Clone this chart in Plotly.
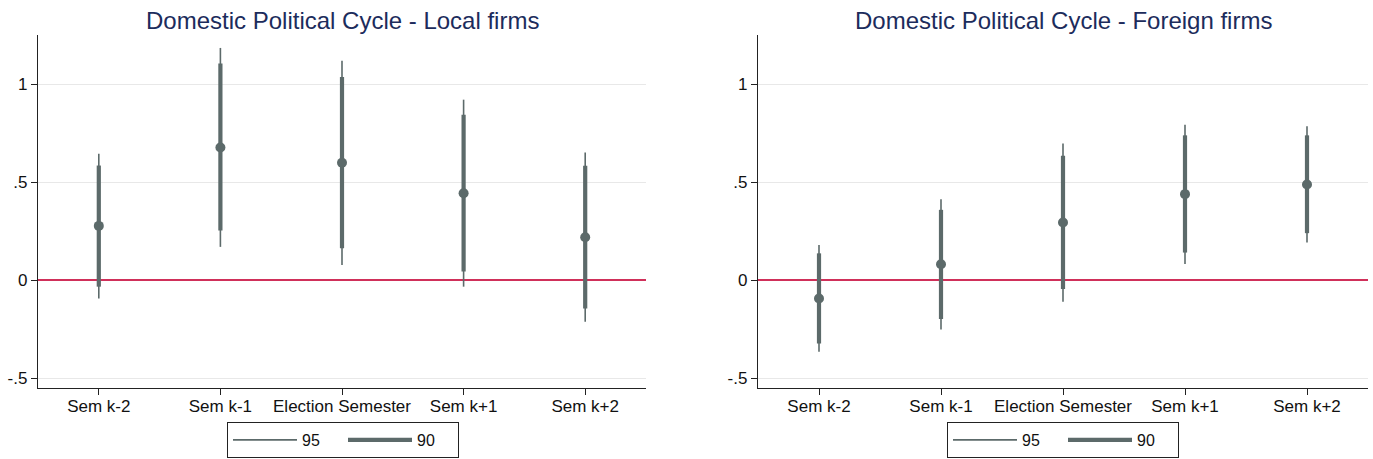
import plotly.graph_objects as go

categories = ["Sem k-2", "Sem k-1", "Election Semester", "Sem k+1", "Sem k+2"]
positions = [1, 2, 3, 4, 5]

# Local firms
local_coef = [0.276, 0.676, 0.598, 0.443, 0.218]
local_lo95 = [-0.094, 0.169, 0.077, -0.034, -0.213]
local_hi95 = [0.644, 1.184, 1.119, 0.920, 0.651]
local_lo90 = [-0.034, 0.252, 0.162, 0.043, -0.145]
local_hi90 = [0.584, 1.104, 1.036, 0.843, 0.583]

# Foreign firms
foreign_coef = [-0.094, 0.080, 0.293, 0.438, 0.487]
foreign_lo95 = [-0.366, -0.252, -0.111, 0.082, 0.191]
foreign_hi95 = [0.179, 0.412, 0.697, 0.792, 0.784]
foreign_lo90 = [-0.324, -0.199, -0.046, 0.140, 0.239]
foreign_hi90 = [0.136, 0.358, 0.634, 0.738, 0.738]

ytick_vals = [-0.5, 0, 0.5, 1]
ytick_text = ["-.5", "0", ".5", "1"]

titles = ["Domestic Political Cycle - Local firms", "Domestic Political Cycle - Foreign firms"]

BAR = "#5c6a6a"
RED = "#d0305a"
NAVY = "#1c2c5c"
FONT = "Liberation Sans, Arial, sans-serif"

W, H = 1373, 459


def segments(xs, lo, hi):
    sx, sy = [], []
    for x, a, b in zip(xs, lo, hi):
        sx += [x, x, None]
        sy += [a, b, None]
    return sx, sy


fig = go.Figure()

panels = [
    (local_coef, local_lo95, local_hi95, local_lo90, local_hi90, "x", "y", "legend"),
    (foreign_coef, foreign_lo95, foreign_hi95, foreign_lo90, foreign_hi90, "x2", "y2", "legend2"),
]

for coef, lo95, hi95, lo90, hi90, xa, ya, leg in panels:
    sx, sy = segments(positions, lo95, hi95)
    fig.add_trace(go.Scatter(x=sx, y=sy, mode="lines", name="95",
                             line=dict(color=BAR, width=1.6), xaxis=xa, yaxis=ya,
                             legend=leg, hoverinfo="skip"))
    sx, sy = segments(positions, lo90, hi90)
    fig.add_trace(go.Scatter(x=sx, y=sy, mode="lines", name="90",
                             line=dict(color=BAR, width=4.2), xaxis=xa, yaxis=ya,
                             legend=leg, hoverinfo="skip"))
    fig.add_trace(go.Scatter(x=positions, y=coef, mode="markers", showlegend=False,
                             marker=dict(color=BAR, size=10), xaxis=xa, yaxis=ya))

ydom = [1 - 388 / H, 1 - 35 / H]
axis_common_x = dict(range=[0.5, 5.5], tickvals=positions, ticktext=categories,
                     showgrid=False, zeroline=False, showline=True, linecolor="#222222",
                     linewidth=1.3, ticks="outside", ticklen=6, tickcolor="#222222",
                     ticklabelstandoff=-4,
                     tickfont=dict(size=17, color="#111111", family=FONT))
axis_common_y = dict(range=[-0.551, 1.25], tickvals=ytick_vals, ticktext=ytick_text,
                     showgrid=True, gridcolor="#e8e8e8", gridwidth=1,
                     zeroline=True, zerolinecolor=RED, zerolinewidth=1.6,
                     showline=True, linecolor="#222222", linewidth=1.3,
                     ticks="outside", ticklen=6, tickcolor="#222222",
                     tickfont=dict(size=17, color="#111111", family=FONT), domain=ydom)

legend_common = dict(orientation="h", xanchor="center", y=1 - 458 / H, yanchor="bottom",
                     bordercolor="#222222", borderwidth=1, bgcolor="white",
                     font=dict(size=16, color="#111111", family=FONT), itemwidth=64,
                     entrywidth=36, tracegroupgap=10)

fig.update_layout(
    width=W, height=H,
    margin=dict(l=0, r=0, t=0, b=0),
    paper_bgcolor="white", plot_bgcolor="white",
    font=dict(family=FONT),
    xaxis=dict(domain=[38 / W, 646 / W], anchor="y", **axis_common_x),
    yaxis=dict(anchor="x", **axis_common_y),
    xaxis2=dict(domain=[758 / W, 1368 / W], anchor="y2", **axis_common_x),
    yaxis2=dict(anchor="x2", **axis_common_y),
    legend=dict(x=343 / W, **legend_common),
    legend2=dict(x=1063 / W, **legend_common),
    showlegend=True,
)

centers = [342 / W, 1063 / W]
for c, t in zip(centers, titles):
    fig.add_annotation(text=t, x=c, y=1 - 21 / H, xref="paper", yref="paper", xanchor="center",
                       yanchor="middle", showarrow=False,
                       font=dict(size=24, color=NAVY, family=FONT))

fig.write_html("out.html", config={"displayModeBar": False},
               post_script="document.body.style.margin='0px';")
